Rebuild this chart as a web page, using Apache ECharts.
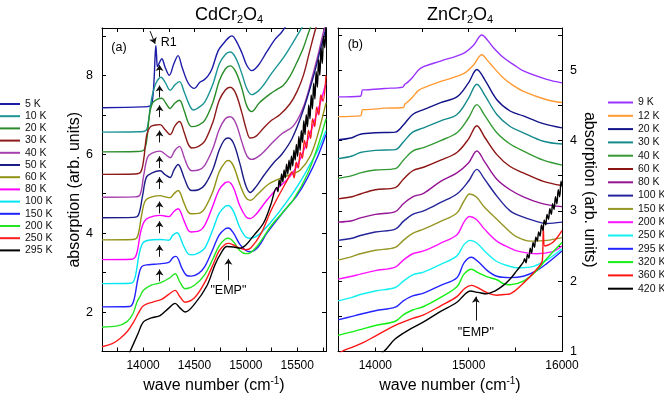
<!DOCTYPE html>
<html><head><meta charset="utf-8">
<script src="https://cdn.jsdelivr.net/npm/echarts@6/dist/echarts.min.js"></script>
<style>html,body{margin:0;padding:0;background:#fff}#c{width:664px;height:399px}</style>
</head><body><div id="c"></div>
<script>
// ---------- Panel (a) CdCr2O4 ----------
const cdNames = ['5 K','10 K','20 K','30 K','40 K','50 K','60 K','80 K','100 K','150 K','200 K','250 K','295 K'];
const cd5K = [[13600,7.18],[14000,7.2],[14065,7.22],[14088,7.32],[14105,7.8],[14117,8.5],[14124,8.75],[14131,8.5],[14140,8.22],[14160,8.33],[14182,8.42],[14215,8.2],[14255,8.0],[14300,8.3],[14340,8.5],[14380,8.2],[14440,7.8],[14500,7.67],[14550,7.82],[14590,7.88],[14630,7.98],[14670,8.16],[14730,8.62],[14780,8.8],[14830,8.95],[14864,9.0],[14900,8.9],[14960,8.58],[15010,8.25],[15058,8.12],[15120,8.25],[15200,8.58],[15280,8.9],[15350,9.1],[15400,9.3]];
const cd10K = [[13600,6.56],[13950,6.57],[14025,6.6],[14050,6.8],[14070,7.2],[14092,7.52],[14125,7.8],[14175,7.95],[14215,7.82],[14263,7.62],[14310,7.76],[14354,7.84],[14400,7.58],[14450,7.25],[14490,7.12],[14540,7.18],[14600,7.32],[14680,7.78],[14740,8.28],[14800,8.53],[14847,8.59],[14900,8.45],[14960,8.05],[15010,7.66],[15058,7.51],[15120,7.6],[15171,7.75],[15250,8.05],[15366,8.45],[15440,8.75],[15497,9.0],[15580,9.35]];
const cd20K = [[13600,6.06],[13940,6.07],[14005,6.1],[14035,6.35],[14062,7.0],[14092,7.3],[14135,7.39],[14182,7.42],[14220,7.3],[14263,7.16],[14310,7.3],[14354,7.37],[14400,7.1],[14440,6.8],[14474,6.7],[14540,6.74],[14600,6.86],[14680,7.32],[14740,7.85],[14800,8.16],[14847,8.24],[14900,8.1],[14960,7.68],[15010,7.22],[15058,7.08],[15130,7.3],[15237,7.53],[15300,7.64],[15366,7.75],[15430,7.98],[15497,8.33],[15560,8.7],[15610,9.08],[15650,9.35]];
const cd30K = [[13600,5.49],[13920,5.5],[13975,5.54],[14005,5.85],[14036,6.5],[14072,6.7],[14120,6.74],[14166,6.75],[14215,6.62],[14263,6.5],[14310,6.72],[14354,6.83],[14400,6.55],[14440,6.25],[14474,6.16],[14540,6.2],[14600,6.33],[14680,6.82],[14740,7.36],[14800,7.63],[14847,7.7],[14900,7.55],[14960,7.06],[15010,6.58],[15042,6.41],[15100,6.46],[15171,6.66],[15250,6.86],[15330,7.0],[15430,7.28],[15500,7.6],[15560,8.0],[15620,8.6],[15670,9.1],[15700,9.35]];
const cd40K = [[13600,4.91],[13920,4.92],[13970,4.97],[14005,5.45],[14042,5.92],[14082,6.02],[14166,6.08],[14215,6.0],[14263,5.91],[14310,6.1],[14354,6.2],[14400,5.92],[14440,5.66],[14474,5.58],[14540,5.6],[14600,5.72],[14680,6.15],[14740,6.62],[14800,6.9],[14847,6.95],[14900,6.8],[14960,6.32],[15010,5.96],[15058,5.87],[15150,6.0],[15250,6.27],[15350,6.52],[15463,6.72],[15560,7.2],[15640,7.9],[15710,8.6],[15760,9.15],[15780,9.3]];
const cd50K = [[13600,4.39],[13910,4.4],[13955,4.46],[13995,4.95],[14032,5.42],[14082,5.52],[14166,5.58],[14215,5.48],[14263,5.41],[14300,5.6],[14340,5.74],[14400,5.4],[14440,5.15],[14474,5.08],[14540,5.1],[14600,5.22],[14680,5.62],[14740,6.1],[14790,6.36],[14828,6.41],[14880,6.28],[14940,5.78],[15000,5.2],[15042,5.03],[15100,5.18],[15180,5.48],[15269,5.78],[15350,6.0],[15450,6.4],[15550,7.05],[15650,7.9],[15730,8.7],[15780,9.2]];
const cd60K = [[13600,3.83],[13900,3.84],[13945,3.91],[13985,4.45],[14017,4.8],[14062,4.9],[14166,4.95],[14215,4.92],[14263,4.9],[14300,5.0],[14340,5.08],[14400,4.75],[14440,4.53],[14474,4.49],[14540,4.5],[14600,4.63],[14680,5.06],[14740,5.55],[14800,5.8],[14830,5.84],[14880,5.7],[14940,5.25],[15000,4.9],[15042,4.83],[15120,5.0],[15220,5.24],[15366,5.42],[15450,5.5],[15529,5.6],[15626,5.95],[15700,6.5],[15780,7.3]];
const cd80K = [[13600,3.33],[13890,3.34],[13935,3.46],[13975,4.02],[14012,4.3],[14062,4.4],[14166,4.45],[14250,4.42],[14300,4.55],[14340,4.62],[14400,4.3],[14440,4.07],[14470,4.03],[14540,4.05],[14600,4.2],[14680,4.7],[14740,5.1],[14800,5.28],[14830,5.3],[14880,5.15],[14940,4.7],[15000,4.42],[15042,4.37],[15100,4.48],[15200,4.82],[15300,5.12],[15399,5.35],[15497,5.7],[15600,6.35],[15700,7.1],[15780,7.8]];
const cd100K = [[13600,2.72],[13880,2.73],[13920,2.86],[13960,3.45],[13997,3.75],[14052,3.82],[14166,3.84],[14250,3.82],[14290,3.95],[14330,4.01],[14390,3.7],[14440,3.47],[14480,3.45],[14540,3.5],[14600,3.62],[14680,4.1],[14740,4.5],[14800,4.68],[14830,4.7],[14880,4.55],[14940,4.15],[15000,3.9],[15042,3.87],[15120,3.95],[15250,4.3],[15399,4.8],[15529,5.3],[15626,5.75],[15700,6.1],[15780,6.6]];
const cd150K = [[13600,2.13],[13870,2.14],[13910,2.3],[13950,2.85],[13987,3.15],[14052,3.2],[14150,3.22],[14250,3.26],[14290,3.38],[14320,3.41],[14380,3.1],[14430,2.92],[14470,2.91],[14540,2.98],[14600,3.15],[14680,3.6],[14740,3.95],[14800,4.11],[14830,4.13],[14880,4.0],[14940,3.72],[15000,3.56],[15042,3.53],[15120,3.65],[15200,3.98],[15302,4.33],[15400,4.65],[15497,4.95],[15600,5.4],[15700,5.95],[15780,6.5]];
const cd200K = [[13600,1.62],[13750,1.65],[13841,1.75],[13900,1.95],[13940,2.25],[13971,2.4],[14003,2.55],[14080,2.68],[14166,2.74],[14250,2.85],[14311,2.97],[14360,2.75],[14409,2.59],[14500,2.68],[14600,2.95],[14680,3.35],[14740,3.68],[14800,3.85],[14830,3.87],[14880,3.78],[14940,3.56],[15000,3.48],[15042,3.5],[15120,3.7],[15250,4.2],[15350,4.5],[15463,4.85],[15600,5.5],[15700,6.2],[15780,6.9]];
const cd250K = [[13600,1.12],[13700,1.2],[13776,1.33],[13850,1.52],[13906,1.74],[13960,2.0],[14003,2.16],[14100,2.26],[14180,2.32],[14250,2.45],[14311,2.55],[14360,2.38],[14409,2.25],[14500,2.36],[14600,2.75],[14680,3.2],[14740,3.55],[14800,3.72],[14830,3.74],[14880,3.7],[14940,3.62],[15000,3.58],[15050,3.63],[15150,4.0],[15250,4.6],[15400,5.33],[15450,5.55],[15470,5.4],[15490,5.8],[15510,5.65],[15530,6.05],[15550,5.9],[15570,6.35],[15590,6.15],[15610,6.6],[15630,6.4],[15650,6.9],[15670,6.7],[15690,7.2],[15710,7.0],[15730,7.5],[15750,7.35],[15780,8.0]];
const cd295K = [[13820,0.7],[13873,1.0],[13950,1.45],[14003,1.75],[14080,1.85],[14165,1.91],[14250,2.1],[14311,2.22],[14360,2.1],[14409,2.0],[14500,2.2],[14620,2.66],[14700,3.2],[14760,3.5],[14815,3.66],[14880,3.65],[14944,3.62],[15000,3.7],[15080,3.95],[15171,4.25],[15240,4.7],[15300,5.16],[15312,5.05],[15324,5.35],[15336,5.2],[15348,5.5],[15360,5.3],[15372,5.6],[15384,5.4],[15396,5.75],[15408,5.5],[15420,5.85],[15432,5.6],[15444,5.95],[15456,5.7],[15468,6.1],[15480,5.85],[15492,6.25],[15504,5.95],[15516,6.45],[15528,6.1],[15540,6.6],[15552,6.3],[15564,6.85],[15576,6.5],[15588,7.0],[15600,6.7],[15612,7.25],[15624,6.9],[15636,7.5],[15648,7.15],[15660,7.8],[15672,7.4],[15684,8.1],[15696,7.7],[15708,8.4],[15720,8.0],[15732,8.7],[15744,8.3],[15756,9.0],[15768,8.7],[15780,9.3]];
const cdSeries = [cd5K,cd10K,cd20K,cd30K,cd40K,cd50K,cd60K,cd80K,cd100K,cd150K,cd200K,cd250K,cd295K];
const cdColors = ['#1c1ca8','#1a9494','#2a8c2a','#8e1a1a','#a53fae','#1c1c86','#929214','#ff00ff','#00e6f2','#2222ff','#22e622','#ff1c1c','#000000'];

// ---------- Panel (b) ZnCr2O4 ----------
const znNames = ['9 K','12 K','20 K','30 K','40 K','60 K','80 K','100 K','150 K','200 K','250 K','295 K','320 K','360 K','420 K'];
const zn9K = [[13600,4.62],[13840,4.63],[13852,4.66],[13862,4.72],[13900,4.72],[14100,4.74],[14295,4.76],[14315,4.8],[14339,4.82],[14400,4.9],[14460,5.0],[14517,5.05],[14700,5.13],[14944,5.24],[15050,5.35],[15141,5.5],[15200,5.43],[15266,5.32],[15372,5.18],[15480,5.08],[15586,4.99],[15836,4.87],[16000,4.82]];
const zn12K = [[13600,4.34],[13840,4.35],[13852,4.38],[13862,4.44],[13900,4.44],[14100,4.46],[14300,4.47],[14318,4.52],[14339,4.54],[14400,4.62],[14460,4.71],[14517,4.75],[14700,4.84],[14944,4.95],[15050,5.07],[15141,5.22],[15200,5.14],[15266,5.04],[15372,4.89],[15480,4.78],[15586,4.7],[15836,4.58],[16000,4.54]];
const zn20K = [[13600,4.01],[13750,4.04],[13840,4.09],[14000,4.11],[14214,4.12],[14300,4.22],[14400,4.37],[14517,4.44],[14700,4.54],[14874,4.62],[14998,4.82],[15088,5.01],[15170,4.87],[15302,4.58],[15444,4.42],[15586,4.35],[15800,4.24],[16000,4.18]];
const zn30K = [[13600,3.74],[13750,3.78],[13840,3.83],[14000,3.86],[14214,3.87],[14300,3.98],[14400,4.12],[14517,4.18],[14700,4.28],[14874,4.37],[14998,4.6],[15088,4.8],[15170,4.65],[15302,4.37],[15444,4.2],[15586,4.11],[15800,3.99],[16000,3.95]];
const zn40K = [[13600,3.46],[13750,3.5],[13840,3.54],[14000,3.58],[14214,3.6],[14300,3.72],[14400,3.85],[14517,3.9],[14700,4.0],[14874,4.11],[14998,4.32],[15088,4.51],[15170,4.36],[15302,4.11],[15444,3.95],[15586,3.85],[15800,3.72],[16000,3.65]];
const zn60K = [[13600,3.17],[13750,3.2],[13840,3.24],[14000,3.3],[14214,3.33],[14300,3.45],[14400,3.57],[14517,3.62],[14700,3.72],[14874,3.83],[14998,4.02],[15088,4.21],[15170,4.05],[15302,3.8],[15444,3.63],[15586,3.54],[15800,3.42],[16000,3.36]];
const zn80K = [[13600,2.84],[13750,2.86],[13840,2.9],[14000,2.95],[14214,2.99],[14300,3.1],[14400,3.2],[14517,3.25],[14700,3.42],[14874,3.54],[14998,3.68],[15088,3.85],[15170,3.7],[15302,3.45],[15444,3.3],[15586,3.2],[15800,3.1],[16000,3.06]];
const zn100K = [[13600,2.58],[13750,2.61],[13840,2.65],[14000,2.7],[14214,2.74],[14300,2.85],[14400,2.95],[14517,3.0],[14700,3.12],[14874,3.24],[14998,3.42],[15088,3.59],[15170,3.45],[15302,3.21],[15444,3.0],[15586,2.91],[15700,2.86],[15836,2.82],[16000,2.84]];
const zn150K = [[13600,2.3],[13750,2.35],[13840,2.39],[14000,2.44],[14214,2.48],[14300,2.58],[14400,2.68],[14517,2.74],[14700,2.85],[14874,2.97],[14950,3.14],[15010,3.24],[15080,3.2],[15170,3.05],[15302,2.88],[15444,2.7],[15516,2.63],[15658,2.57],[15836,2.58],[16000,2.62]];
const zn200K = [[13600,2.03],[13750,2.07],[13840,2.1],[14000,2.15],[14214,2.2],[14300,2.3],[14400,2.39],[14517,2.43],[14700,2.54],[14874,2.66],[14950,2.84],[15010,2.92],[15080,2.88],[15170,2.74],[15302,2.57],[15444,2.47],[15516,2.43],[15729,2.39],[15900,2.42],[16000,2.5]];
const zn250K = [[13600,1.72],[13750,1.77],[13840,1.81],[14000,1.86],[14214,1.91],[14300,2.0],[14400,2.09],[14517,2.13],[14700,2.24],[14874,2.36],[14950,2.52],[15020,2.58],[15090,2.54],[15170,2.43],[15302,2.28],[15444,2.21],[15516,2.19],[15658,2.2],[15836,2.3],[16000,2.46]];
const zn295K = [[13600,1.45],[13750,1.5],[13840,1.53],[14000,1.58],[14214,1.63],[14300,1.72],[14400,1.79],[14517,1.83],[14700,1.94],[14874,2.05],[14950,2.26],[15030,2.34],[15100,2.28],[15200,2.15],[15302,2.07],[15444,2.05],[15586,2.07],[15729,2.15],[15836,2.25],[16000,2.43]];
const zn320K = [[13600,1.23],[13750,1.28],[13840,1.31],[14000,1.37],[14214,1.43],[14300,1.52],[14400,1.59],[14517,1.64],[14700,1.77],[14874,1.92],[14950,2.1],[15030,2.17],[15100,2.12],[15200,2.06],[15302,2.02],[15380,1.96],[15444,1.95],[15586,2.0],[15729,2.15],[15836,2.32],[16000,2.55]];
const zn360K = [[13600,0.95],[13640,1.0],[13750,1.06],[13875,1.13],[14000,1.22],[14214,1.37],[14400,1.47],[14517,1.52],[14700,1.65],[14874,1.78],[14960,1.9],[15030,1.94],[15080,1.92],[15120,1.89],[15230,1.82],[15302,1.8],[15380,1.81],[15444,1.82],[15586,1.97],[15729,2.17],[15790,2.3],[15800,2.75],[15815,2.5],[15900,2.55],[16000,2.72]];
const zn420K = [[13930,0.85],[14090,1.0],[14214,1.18],[14350,1.3],[14517,1.42],[14700,1.57],[14874,1.7],[14950,1.8],[15016,1.86],[15100,1.84],[15195,1.82],[15280,1.86],[15372,1.94],[15444,2.03],[15516,2.15],[15586,2.27],[15600,2.32],[15615,2.26],[15630,2.38],[15645,2.33],[15660,2.47],[15675,2.4],[15690,2.55],[15705,2.48],[15720,2.63],[15735,2.57],[15750,2.7],[15765,2.64],[15780,2.8],[15795,2.72],[15810,2.87],[15825,2.8],[15840,2.95],[15855,2.88],[15870,3.03],[15885,2.95],[15900,3.1],[15915,3.02],[15930,3.2],[15945,3.1],[15960,3.3],[15975,3.2],[15990,3.42],[16000,3.35]];
const znSeries = [zn9K,zn12K,zn20K,zn30K,zn40K,zn60K,zn80K,zn100K,zn150K,zn200K,zn250K,zn295K,zn320K,zn360K,zn420K];
const znColors = ['#9a33ff','#ff9a33','#14148a','#148a8a','#349a34','#8e1414','#951495','#24249a','#969624','#ff14ff','#14f0f0','#2424ff','#14f014','#ff1414','#000000'];

// ---------- axes ticks and annotations (data units) ----------
const cdTicks = [13750,14000,14250,14500,14750,15000,15250,15500,15750];
const cdTickLabels = [14000,14500,15000,15500];
const cdYTicks = [1,2,3,4,5,6,7,8,9];
const cdYLabels = [2,4,6,8];
const znTicks = [14000,14500,15000,15500,16000];
const znTickLabels = [14000,15000,16000];
const znYTicks = [1,1.5,2,2.5,3,3.5,4,4.5,5,5.5];
const znYLabels = [1,2,3,4,5];
const r1ArrowX = 14160;
const r1ArrowTips = [8.26,7.74,7.24,6.6,5.95,5.42,4.8,4.3,3.7,3.08];
const r1ArrowLen = 0.3;
const r1Pointer = [[14068,9.12],[14117,8.8]];
const cdEmpArrow = [[14830,2.8],[14830,3.35]];
const znEmpArrow = [[15077,1.44],[15077,1.78]];
const cdTexts = [['(a)',13765,8.7],['R1',14250,8.83],['"EMP"',14830,2.55]];
const znTexts = [['(b)',13785,5.37],['"EMP"',15077,1.27]];

const FONT = '"Liberation Sans", Arial, sans-serif';
const chart = echarts.init(document.getElementById('c'), null, {renderer:'canvas'});

function xAx(grid, min, max, ticks, labels, pos, showLabel) {
  return {gridIndex:grid, type:'value', min, max, position:pos,
    axisLine:{show:true, onZero:false, lineStyle:{color:'#000', width:1}},
    axisTick:{show:true, inside:true, length:4, customValues:ticks, lineStyle:{color:'#000'}},
    axisLabel:{show:showLabel, customValues:labels, color:'#000', fontSize:12, fontFamily:FONT, margin:8, formatter:v=>String(v)},
    splitLine:{show:false},
    name: showLabel ? 'wave number (cm{s|-1})' : '', nameLocation:'middle', nameGap:25,
    nameTextStyle:{fontSize:16, fontFamily:FONT, color:'#000', rich:{s:{fontSize:10, fontFamily:FONT, color:'#000', padding:[0,0,9,0]}}}
  };
}
function yAx(grid, min, max, ticks, labels, pos, showLabel, rot) {
  return {gridIndex:grid, type:'value', min, max, position:pos,
    axisLine:{show:true, onZero:false, lineStyle:{color:'#000', width:1}},
    axisTick:{show:true, inside:true, length:4, customValues:ticks, lineStyle:{color:'#000'}},
    axisLabel:{show:showLabel, customValues:labels, color:'#000', fontSize:12.5, fontFamily:FONT, margin:pos==='left'?9:8, formatter:v=>String(v)},
    splitLine:{show:false},
    name: showLabel ? 'absorption (arb. units)' : '', nameLocation:'middle', nameGap: pos==='left'?17:19, nameRotate: rot,
    nameTextStyle:{fontSize:16, fontFamily:FONT, color:'#000'}
  };
}

const series = [];
cdSeries.forEach((d,i)=>series.push({name:'a|'+cdNames[i], type:'line', xAxisIndex:0, yAxisIndex:0, data:d, smooth:0.35,
  symbol:'none', showSymbol:false, color:cdColors[i], lineStyle:{width:1.4, color:cdColors[i]}, clip:true, animation:false, silent:true}));
znSeries.forEach((d,i)=>series.push({name:'b|'+znNames[i], type:'line', xAxisIndex:2, yAxisIndex:3, data:d, smooth:0.35,
  symbol:'none', showSymbol:false, color:znColors[i], lineStyle:{width:1.4, color:znColors[i]}, clip:true, animation:false, silent:true}));

function annSeries(xi, yi, arrows, texts, nm) {
  return {name:nm, type:'line', xAxisIndex:xi, yAxisIndex:yi, data:[], silent:true, animation:false,
    markLine:{silent:true, animation:false, symbol:['none','arrow'], symbolSize:6, label:{show:false},
      lineStyle:{color:'#111', width:1, type:'solid'}, emphasis:{disabled:true},
      data: arrows.map(a=>[{coord:a[0]},{coord:a[1]}])},
    markPoint:{silent:true, animation:false, symbol:'circle', symbolSize:0, itemStyle:{color:'rgba(0,0,0,0)'},
      label:{show:true, position:'inside', color:'#000', fontSize:12.5, fontFamily:FONT, formatter:p=>p.name},
      data: texts.map(t=>({name:t[0], coord:[t[1],t[2]]}))}
  };
}
const cdArrows = r1ArrowTips.map(t=>[[r1ArrowX,t-r1ArrowLen],[r1ArrowX,t]]);
cdArrows.push(r1Pointer, cdEmpArrow);
series.push(annSeries(0,0,cdArrows,cdTexts,'annA'));
series.push(annSeries(2,3,[znEmpArrow],znTexts,'annB'));

const option = {
  animation:false,
  backgroundColor:'#fff',
  grid:[{left:102, top:28, width:224, height:325}, {left:338, top:28, width:224, height:325}],
  xAxis:[
    xAx(0,13600,15780,cdTicks,cdTickLabels,'bottom',true),
    xAx(0,13600,15780,cdTicks,cdTickLabels,'top',false),
    xAx(1,13600,16000,znTicks,znTickLabels,'bottom',true),
    xAx(1,13600,16000,znTicks,znTickLabels,'top',false)
  ],
  yAxis:[
    yAx(0,1,9.2,cdYTicks,cdYLabels,'left',true,90),
    yAx(0,1,9.2,cdYTicks,cdYLabels,'right',false,90),
    yAx(1,1,5.6,znYTicks,znYLabels,'left',false,90),
    yAx(1,1,5.6,znYTicks,znYLabels,'right',true,-90)
  ],
  legend:[
    {data:cdNames.map(n=>'a|'+n), orient:'vertical', left:0, top:98, padding:0, itemWidth:20, itemHeight:2, itemGap:0.2, icon:'rect',
     selectedMode:false, formatter:n=>n.split('|')[1], textStyle:{fontSize:10.5, lineHeight:12, fontFamily:FONT, color:'#111'}},
    {data:znNames.map(n=>'b|'+n), orient:'vertical', left:608, top:96.5, padding:0, itemWidth:25, itemHeight:2, itemGap:1.3, icon:'rect',
     selectedMode:false, formatter:n=>n.split('|')[1], textStyle:{fontSize:10.5, lineHeight:12, fontFamily:FONT, color:'#111'}}
  ],
  graphic:[
    {type:'text', x:229, y:5, style:{text:'CdCr{s|2}O{s|4}', fontSize:18, fontFamily:FONT, fill:'#000', align:'center', verticalAlign:'top',
      rich:{s:{fontSize:11, fontFamily:FONT, fill:'#000', padding:[9,0,0,0]}}}},
    {type:'text', x:460, y:5, style:{text:'ZnCr{s|2}O{s|4}', fontSize:18, fontFamily:FONT, fill:'#000', align:'center', verticalAlign:'top',
      rich:{s:{fontSize:11, fontFamily:FONT, fill:'#000', padding:[9,0,0,0]}}}}
  ],
  series
};
chart.setOption(option);
</script>
</body></html>
